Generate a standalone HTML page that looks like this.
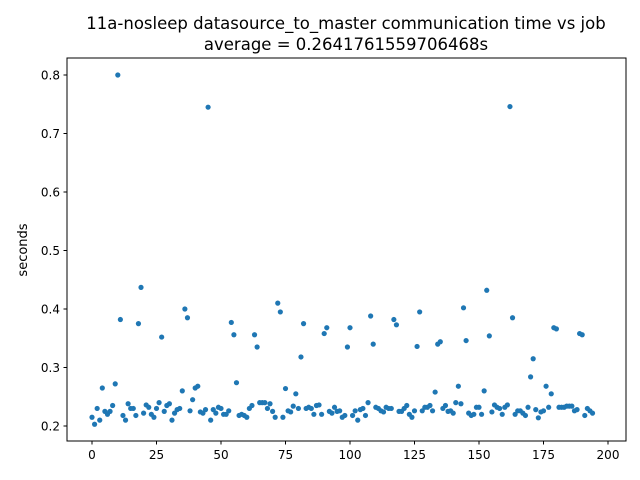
<!DOCTYPE html>
<html><head><meta charset="utf-8"><style>
body{margin:0;background:#fff;}
svg{display:block;font-family:"DejaVu Sans","Liberation Sans",sans-serif;}
</style></head><body>
<svg id="chart" width="640" height="480" viewBox="0 0 640 480" xmlns="http://www.w3.org/2000/svg">
<rect width="640" height="480" fill="#fff"/>
<text x="346" y="29" text-anchor="middle" font-size="16.5">11a-nosleep datasource_to_master communication time vs job</text>
<text x="346" y="50" text-anchor="middle" font-size="16.5">average = 0.2641761559706468s</text>
<text transform="translate(27,250) rotate(-90)" text-anchor="middle" font-size="13">seconds</text>
<g id="ticks"></g>
<g id="points"></g>
<rect x="67" y="58" width="559" height="383" fill="none" stroke="#000" stroke-width="1"/>
</svg>
<script>
const yValues=[0.215,0.203,0.23,0.21,0.265,0.225,0.22,0.225,0.235,0.272,0.8,0.382,0.218,0.21,0.238,0.23,0.23,0.218,0.375,0.437,0.222,0.236,0.232,0.22,0.215,0.23,0.24,0.352,0.225,0.235,0.238,0.21,0.222,0.228,0.23,0.26,0.4,0.385,0.226,0.245,0.265,0.268,0.224,0.222,0.228,0.745,0.21,0.228,0.222,0.232,0.23,0.22,0.22,0.226,0.377,0.356,0.274,0.218,0.22,0.218,0.215,0.23,0.235,0.356,0.335,0.24,0.24,0.24,0.23,0.238,0.225,0.215,0.41,0.395,0.215,0.264,0.226,0.224,0.234,0.255,0.23,0.318,0.375,0.23,0.232,0.23,0.22,0.235,0.236,0.22,0.358,0.368,0.225,0.222,0.232,0.225,0.226,0.215,0.218,0.335,0.368,0.218,0.226,0.21,0.228,0.23,0.218,0.24,0.388,0.34,0.232,0.23,0.226,0.224,0.232,0.23,0.23,0.382,0.373,0.225,0.225,0.23,0.235,0.22,0.215,0.226,0.336,0.395,0.226,0.232,0.232,0.235,0.226,0.258,0.34,0.344,0.23,0.235,0.225,0.226,0.222,0.24,0.268,0.238,0.402,0.346,0.222,0.218,0.22,0.232,0.232,0.22,0.26,0.432,0.354,0.224,0.236,0.232,0.23,0.22,0.232,0.236,0.746,0.385,0.22,0.226,0.226,0.222,0.218,0.232,0.284,0.315,0.228,0.214,0.224,0.226,0.268,0.232,0.255,0.368,0.366,0.232,0.232,0.232,0.234,0.234,0.234,0.226,0.228,0.358,0.356,0.218,0.23,0.226,0.222];
const xTicks=[0,25,50,75,100,125,150,175,200];
const yTicks=[0.2,0.3,0.4,0.5,0.6,0.7,0.8];
const NS="http://www.w3.org/2000/svg";
const xs=v=>92+v*2.58;
const ys=v=>426-(v-0.2)*585;
const tg=document.getElementById('ticks'), pg=document.getElementById('points');
function mk(tag,attrs,parent){const e=document.createElementNS(NS,tag);for(const k in attrs)e.setAttribute(k,attrs[k]);parent.appendChild(e);return e;}
xTicks.forEach(t=>{
  const l=mk('line',{x1:xs(t),x2:xs(t),y1:441,y2:444.5,stroke:'#000'},tg);
  
  
  const tx=mk('text',{x:xs(t),y:459,'text-anchor':'middle','font-size':'12'},tg);
  
  
  tx.textContent=t;
});
yTicks.forEach(t=>{
  const l=mk('line',{x1:63.5,x2:67,y1:ys(t),y2:ys(t),stroke:'#000'},tg);
  
  
  const tx=mk('text',{x:60,y:ys(t)+4.5,'text-anchor':'end','font-size':'12'},tg);
  
  
  tx.textContent=t.toFixed(1);
});
yValues.forEach((v,i)=>{
  const c=mk('circle',{cx:xs(i),cy:ys(v),r:2.6,fill:'#1f77b4'},pg);
  
  
});
</script>
</body></html>
